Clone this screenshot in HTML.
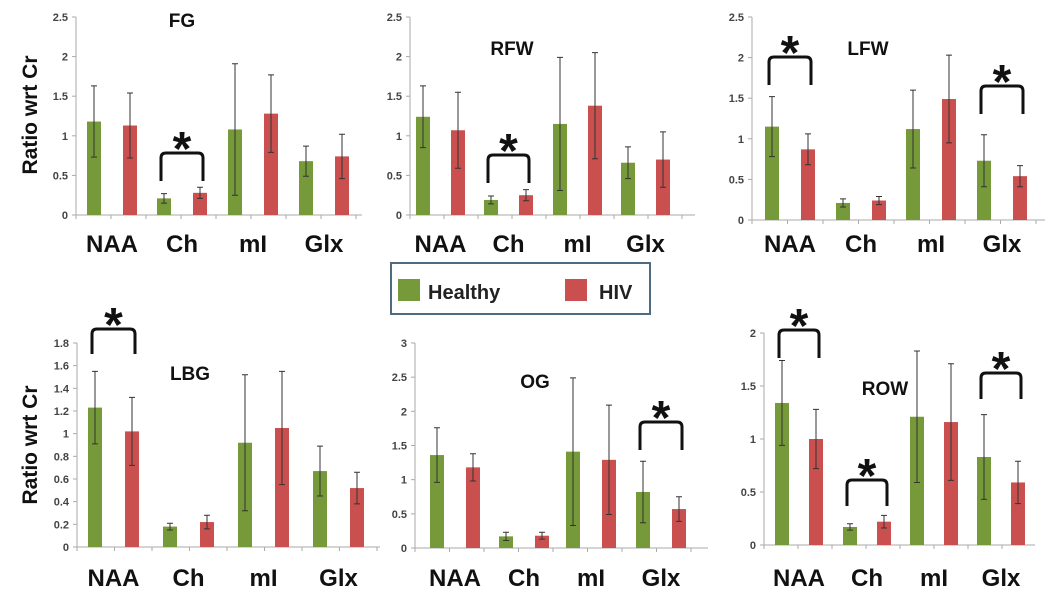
<!DOCTYPE html>
<html><head><meta charset="utf-8"><style>
body{margin:0;background:#fff;width:1049px;height:603px;overflow:hidden;font-family:"Liberation Sans",sans-serif}
svg{display:block}
text{font-family:"Liberation Sans",sans-serif}
</style></head><body>
<svg id="c" width="1049" height="603">
<g>
<rect x="391" y="263" width="259" height="51" fill="#fff" stroke="#4e6b82" stroke-width="2"/>
<rect x="398" y="279" width="22" height="22" fill="#76993a"/>
<text x="428" y="299" font-size="20" font-weight="bold" fill="#222">Healthy</text>
<rect x="565" y="279" width="22" height="22" fill="#c9504f"/>
<text x="599" y="299" font-size="20" font-weight="bold" fill="#222">HIV</text>
</g>
</svg>
<script>
const categories=["NAA","Ch","mI","Glx"];
const fgHealthy=[1.18,0.21,1.08,0.68], fgHealthyErr=[0.45,0.06,0.83,0.19];
const fgHiv=[1.13,0.28,1.28,0.74], fgHivErr=[0.41,0.07,0.49,0.28];
const rfwHealthy=[1.24,0.19,1.15,0.66], rfwHealthyErr=[0.39,0.05,0.84,0.2];
const rfwHiv=[1.07,0.25,1.38,0.7], rfwHivErr=[0.48,0.07,0.67,0.35];
const lfwHealthy=[1.15,0.21,1.12,0.73], lfwHealthyErr=[0.37,0.05,0.48,0.32];
const lfwHiv=[0.87,0.24,1.49,0.54], lfwHivErr=[0.19,0.05,0.54,0.13];
const lbgHealthy=[1.23,0.18,0.92,0.67], lbgHealthyErr=[0.32,0.03,0.6,0.22];
const lbgHiv=[1.02,0.22,1.05,0.52], lbgHivErr=[0.3,0.06,0.5,0.14];
const ogHealthy=[1.36,0.17,1.41,0.82], ogHealthyErr=[0.4,0.06,1.08,0.45];
const ogHiv=[1.18,0.18,1.29,0.57], ogHivErr=[0.2,0.05,0.8,0.18];
const rowHealthy=[1.34,0.17,1.21,0.83], rowHealthyErr=[0.4,0.03,0.62,0.4];
const rowHiv=[1.0,0.22,1.16,0.59], rowHivErr=[0.28,0.06,0.55,0.2];
const ticks25=["0","0.5","1","1.5","2","2.5"];
const ticks18=["0","0.2","0.4","0.6","0.8","1","1.2","1.4","1.6","1.8"];
const ticks3=["0","0.5","1","1.5","2","2.5","3"];
const ticks2=["0","0.5","1","1.5","2"];

const panels=[
 {id:"fg",title:"FG",tx:182,ty:27,ax:76,y0:215,yTop:17,max:2.5,ticks:ticks25,g:[94,164,235,306],gap:36,x1:362,h:fgHealthy,he:fgHealthyErr,v:fgHiv,ve:fgHivErr,sig:[{i:1,y:153,leg:28}],labY:252,ytitle:115},
 {id:"rfw",title:"RFW",tx:512,ty:55,ax:410,y0:215,yTop:17,max:2.5,ticks:ticks25,g:[423,491,560,628],gap:35,x1:695,h:rfwHealthy,he:rfwHealthyErr,v:rfwHiv,ve:rfwHivErr,sig:[{i:1,y:155,leg:28}],labY:252},
 {id:"lfw",title:"LFW",tx:868,ty:55,ax:752,y0:220,yTop:17,max:2.5,ticks:ticks25,g:[772,843,913,984],gap:36,x1:1045,h:lfwHealthy,he:lfwHealthyErr,v:lfwHiv,ve:lfwHivErr,sig:[{i:0,y:57,leg:28},{i:3,y:86,leg:28}],labY:252},
 {id:"lbg",title:"LBG",tx:190,ty:380,ax:77,y0:547,yTop:343,max:1.8,ticks:ticks18,g:[95,170,245,320],gap:37,x1:380,h:lbgHealthy,he:lbgHealthyErr,v:lbgHiv,ve:lbgHivErr,sig:[{i:0,y:329,leg:25}],labY:586,ytitle:445},
 {id:"og",title:"OG",tx:535,ty:388,ax:415,y0:548,yTop:343,max:3,ticks:ticks3,g:[437,506,573,643],gap:36,x1:708,h:ogHealthy,he:ogHealthyErr,v:ogHiv,ve:ogHivErr,sig:[{i:3,y:422,leg:28}],labY:586},
 {id:"row",title:"ROW",tx:885,ty:395,ax:764,y0:545,yTop:333,max:2,ticks:ticks2,g:[782,850,917,984],gap:34,x1:1035,h:rowHealthy,he:rowHealthyErr,v:rowHiv,ve:rowHivErr,sig:[{i:0,y:330,leg:28},{i:1,y:480,leg:26},{i:3,y:373,leg:26}],labY:586}
];
const NS="http://www.w3.org/2000/svg";
const svg=document.getElementById("c");
function mk(tag,attrs,parent){const e=document.createElementNS(NS,tag);for(const k in attrs)e.setAttribute(k,attrs[k]);parent.appendChild(e);return e;}
panels.forEach(p=>{
 const g=mk("g",{},svg);
 
 
 const ys=v=>p.y0-(v/p.max)*(p.y0-p.yTop);
 const ax=mk("line",{x1:p.ax,y1:p.yTop,x2:p.ax,y2:p.y0,stroke:"#aaa","stroke-width":1},g);
 
 
 const xl=mk("line",{x1:p.ax,y1:p.y0,x2:p.x1,y2:p.y0,stroke:"#aaa","stroke-width":1},g);
 
 
 p.ticks.forEach(t=>{
  const y=ys(parseFloat(t));
  mk("line",{x1:p.ax-4,y1:y,x2:p.ax,y2:y,stroke:"#aaa"},g);
  const tl=mk("text",{x:p.ax-8,y:y+4,"font-size":11,"font-weight":"bold",fill:"#444","text-anchor":"end"},g);
  tl.textContent=t;
  
  
 });
 const step=(p.g[1]-p.g[0])/2;
 for(let k=0;k<=8;k++){const x=p.ax+k*step;if(x<=p.x1)mk("line",{x1:x,y1:p.y0,x2:x,y2:p.y0+4,stroke:"#aaa"},g);}
 categories.forEach((c,i)=>{
  [[p.h,p.he,"#76993a","healthy",0],[p.v,p.ve,"#c9504f","hiv",p.gap]].forEach(s=>{
   const cx=p.g[i]+s[4],val=s[0][i],err=s[1][i],w=14;
   const b=mk("rect",{x:cx-w/2,y:ys(val),width:w,height:p.y0-ys(val),fill:s[2]},g);
   
   
   const y1=ys(val+err),y2=ys(Math.max(0,val-err));
   const eb=mk("path",{d:`M${cx},${y1}V${y2}M${cx-3},${y1}H${cx+3}M${cx-3},${y2}H${cx+3}`,stroke:"#333","stroke-width":1,fill:"none"},g);
   
   
  });
  const cl=mk("text",{x:p.g[i]+p.gap/2,y:p.labY,"font-size":24,"font-weight":"bold",fill:"#111","text-anchor":"middle"},g);
  cl.textContent=c;
  
  
 });
 p.sig.forEach(s=>{
  const xa=p.g[s.i]-3,xb=p.g[s.i]+p.gap+3,y=s.y,yb=y+s.leg;
  const br=mk("path",{d:`M${xa},${yb}V${y+5}Q${xa},${y} ${xa+5},${y}H${xb-5}Q${xb},${y} ${xb},${y+5}V${yb}`,stroke:"#111","stroke-width":3,fill:"none"},g);
  
  
  const st=mk("text",{x:(xa+xb)/2,y:y+12,"font-size":48,"font-weight":"bold",fill:"#111","text-anchor":"middle"},g);
  st.textContent="*";
  
  
 });
 const ti=mk("text",{x:p.tx,y:p.ty,"font-size":19,"font-weight":"bold",fill:"#111","text-anchor":"middle"},g);
 ti.textContent=p.title;
 
 
 if(p.ytitle){
  const yt=mk("text",{x:0,y:0,"font-size":21,"font-weight":"bold",fill:"#111","text-anchor":"middle",transform:`translate(37,${p.ytitle}) rotate(-90)`},g);
  yt.textContent="Ratio wrt Cr";
  
  
 }
});
</script>
</body></html>
